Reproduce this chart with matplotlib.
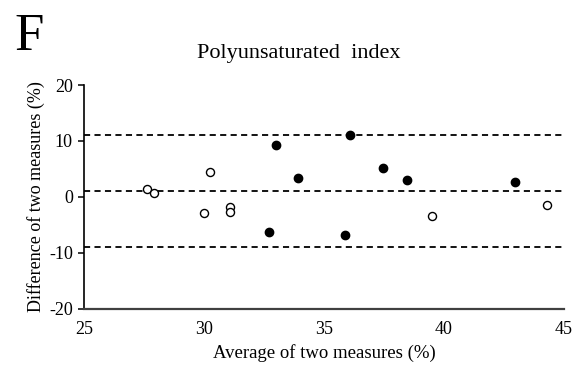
import numpy as np
import matplotlib.pyplot as plt

# Bland-Altman data: mean of the two measures vs their difference
open_avg = [27.63, 27.90, 30.25, 29.99, 31.10, 31.10, 39.49, 44.30]
open_diff = [1.32, 0.71, 4.46, -2.96, -1.79, -2.68, -3.39, -1.54]
filled_avg = [33.01, 33.93, 32.71, 36.08, 37.47, 38.45, 42.96, 35.89]
filled_diff = [9.29, 3.46, -6.25, 11.14, 5.13, 3.04, 2.63, -6.89]

# bias and limits of agreement
bias = 1.0
limits = [11.0, -9.0]

xticks = [25, 30, 35, 40, 45]
yticks = [-20, -10, 0, 10, 20]

plt.rcParams['font.family'] = ['Liberation Serif', 'DejaVu Serif']
plt.rcParams['axes.unicode_minus'] = False

fig = plt.figure(figsize=(5.85, 3.69), dpi=100)
ax = fig.add_axes([0.1436, 0.1634, 0.8205, 0.6062])

for yv in [bias] + limits:
    ax.axhline(yv, color='black', linestyle=(0, (3.4, 2.4)), linewidth=1.3, zorder=1)

ax.plot(open_avg, open_diff, 'o', markerfacecolor='white', markeredgecolor='black',
        markeredgewidth=1.0, markersize=5.8, zorder=3)
ax.plot(filled_avg, filled_diff, 'o', color='black', markersize=6.0, zorder=3)

ax.set_xlim(25, 45)
ax.set_ylim(-20, 20)
ax.set_xticks(xticks)
ax.set_yticks(yticks)
ax.tick_params(axis='x', length=0, labelsize=13, pad=9)
ax.tick_params(axis='y', direction='out', length=4, width=1.1, labelsize=13, pad=4)

ax.spines['top'].set_visible(False)
ax.spines['right'].set_visible(False)
ax.spines['left'].set_linewidth(1.2)
ax.spines['bottom'].set_linewidth(1.6)
ax.spines['bottom'].set_color('#404040')

ax.set_xlabel('Average of two measures (%)', fontsize=13.5, labelpad=4)
ax.set_ylabel('Difference of two measures (%)', fontsize=13, labelpad=3)

fig.text(0.511, 0.855, 'Polyunsaturated  index', fontsize=16, ha='center', va='center')
fig.text(0.025, 0.965, 'F', fontsize=38, ha='left', va='top')

fig.savefig('out.png', dpi=100)
